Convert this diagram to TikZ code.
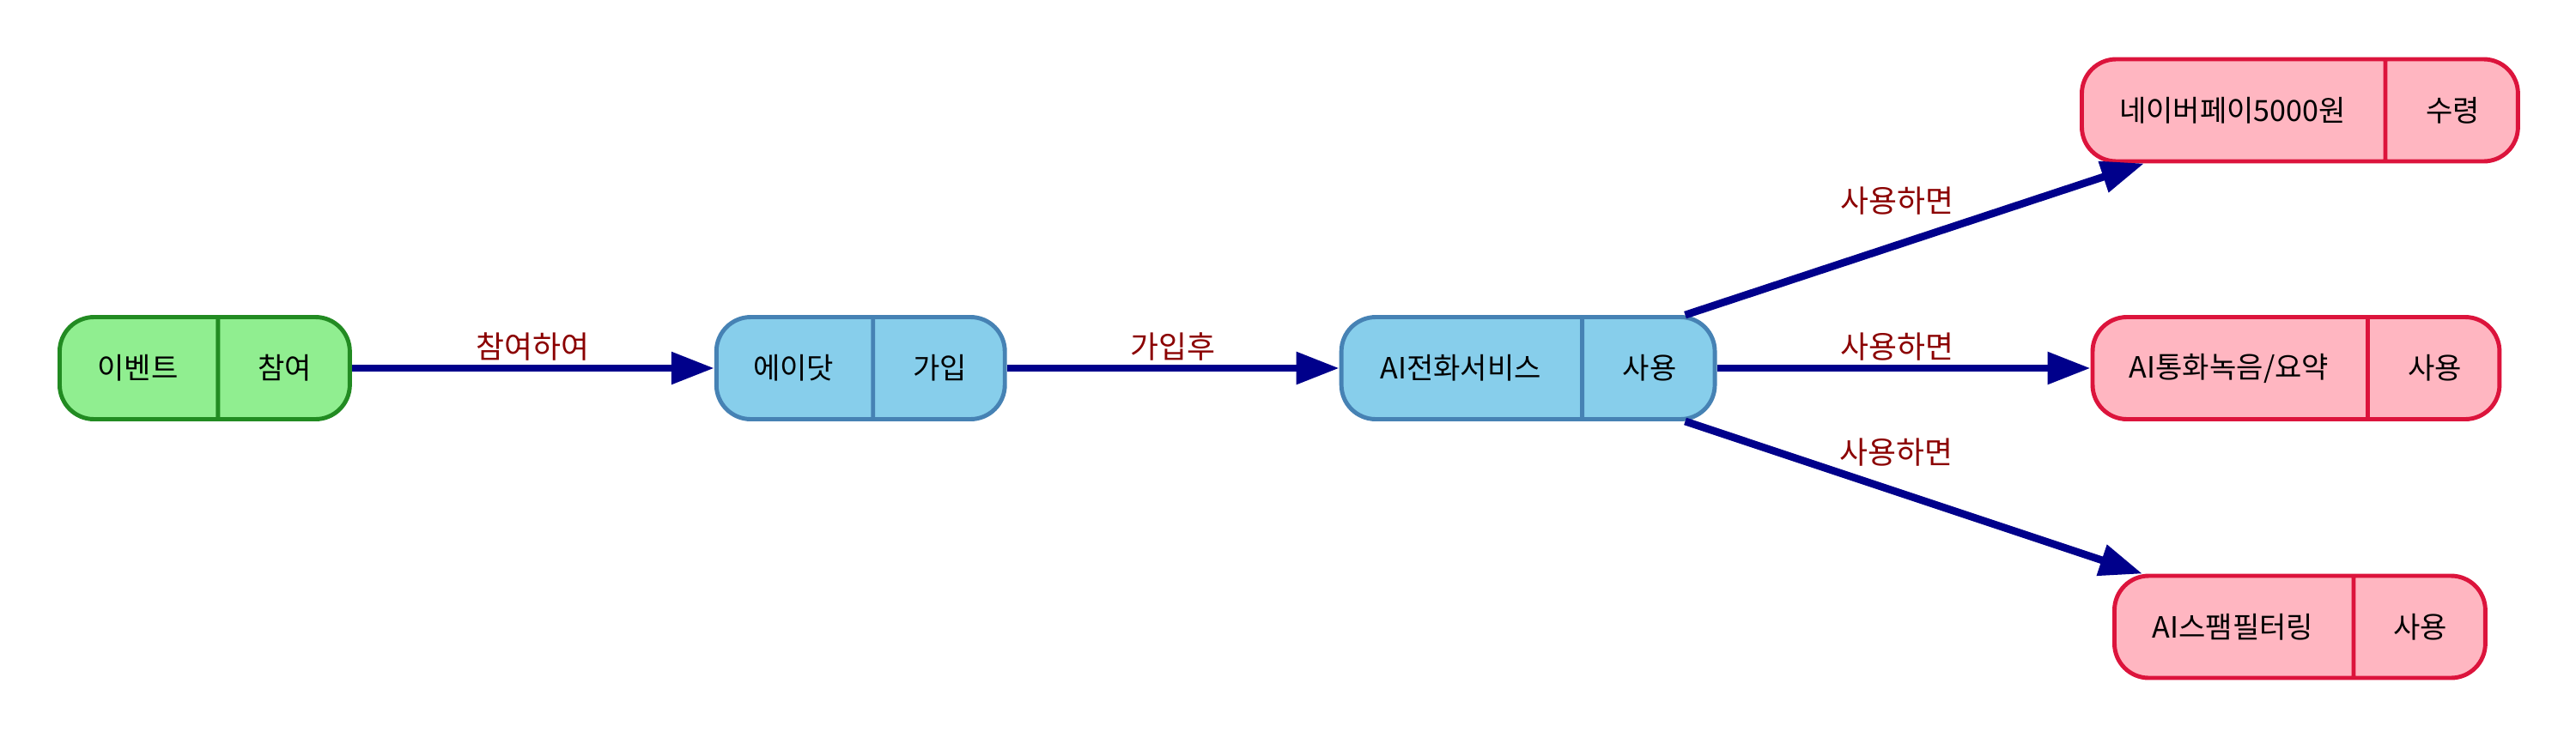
\documentclass[tikz,border=0pt]{standalone}
\usepackage{fontspec}
\setmainfont{Noto Sans CJK KR}
\usepackage{xcolor}
\usetikzlibrary{shapes.multipart, arrows.meta, positioning}

\definecolor{evfill}{HTML}{90EE90}
\definecolor{evdraw}{HTML}{228B22}
\definecolor{svfill}{HTML}{87CEEB}
\definecolor{svdraw}{HTML}{4682B4}
\definecolor{rwfill}{HTML}{FFB6C1}
\definecolor{rwdraw}{HTML}{DC143C}
\definecolor{edgeblue}{HTML}{00008B}
\definecolor{lblred}{HTML}{8B0000}

\begin{document}
\begin{tikzpicture}[node distance=4cm, font=\fontsize{9.7}{11}\selectfont]
        % Define block styles
        \tikzstyle{record} = [rectangle split, rectangle split horizontal, rectangle split parts=2, rounded corners=0.4cm, line width=1.4pt, inner xsep=0pt, inner ysep=0pt, minimum height=1.19cm]
        \tikzstyle{event} = [record, draw=evdraw, fill=evfill]
        \tikzstyle{service} = [record, draw=svdraw, fill=svfill]
        \tikzstyle{reward} = [record, draw=rwdraw, fill=rwfill]
        \tikzstyle{line} = [draw=edgeblue, line width=2.5pt, -{Triangle[length=0.5cm, width=0.36cm]}]
        \tikzstyle{lbl} = [text=lblred, inner sep=1pt, anchor=center, font=\fontsize{10.2}{12}\selectfont]

        \fill[white] (0,0) rectangle (30,8.59);
        \useasboundingbox (0,0) rectangle (30,8.59);

        % Define nodes
        \node [event, anchor=west] (join) at (0.67,4.30) {\makebox[1.82cm]{이벤트}\nodepart{two}\makebox[1.51cm]{참여}};
        \node [service, right=4.22cm of join] (adot) {\makebox[1.80cm]{에이닷}\nodepart{two}\makebox[1.51cm]{가입}};
        \node [service, right=3.87cm of adot] (call) {\makebox[2.78cm]{AI전화서비스}\nodepart{two}\makebox[1.52cm]{사용}};
        \node [reward, right=4.35cm of call] (memo) {\makebox[3.18cm]{AI통화녹음/요약}\nodepart{two}\makebox[1.51cm]{사용}};
        \node [reward, anchor=west] (pay) at (24.22,7.305) {\makebox[3.51cm]{네이버페이5000원}\nodepart{two}\makebox[1.52cm]{수령}};
        \node [reward, anchor=west] (spam) at (24.60,1.285) {\makebox[2.76cm]{AI스팸필터링}\nodepart{two}\makebox[1.51cm]{사용}};

        % Connect nodes with paths
        \path [line] (join.east) -- node [lbl, yshift=0.25cm] {참여하여} (adot.west);
        \path [line] (adot.east) -- node [lbl, yshift=0.25cm] {가입후} (call.west);
        \path [line] (call.east) -- node [lbl, xshift=-0.08cm, yshift=0.25cm] {사용하면} (memo.west);
        \path [line] ([xshift=-0.37cm]call.north east) -- node [lbl, xshift=-0.2cm, yshift=0.45cm] {사용하면} ([xshift=0.75cm]pay.south west);
        \path [line] ([xshift=-0.37cm]call.south east) -- node [lbl, xshift=-0.2cm, yshift=0.53cm] {사용하면} ([xshift=0.35cm]spam.north west);

    \end{tikzpicture}
\end{document}
